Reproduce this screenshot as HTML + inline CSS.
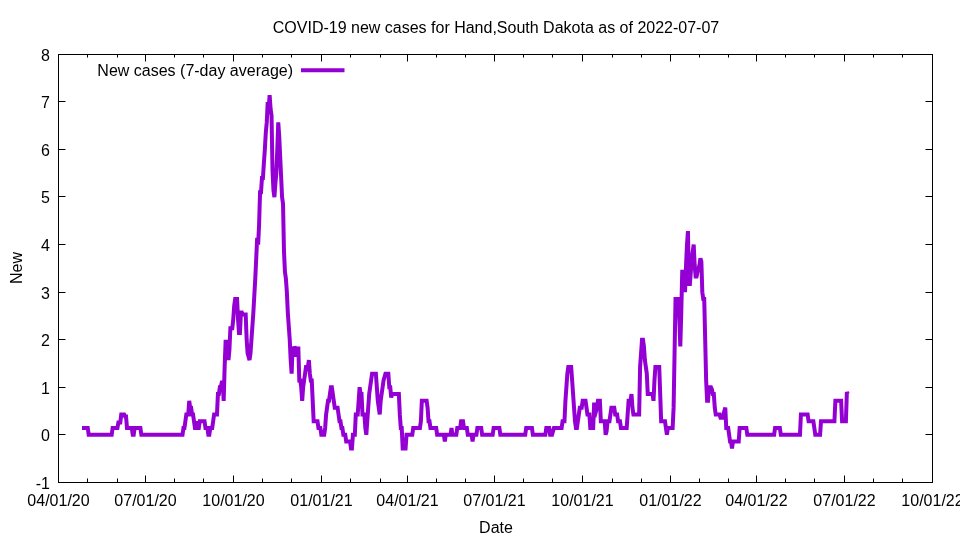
<!DOCTYPE html>
<html><head><meta charset="utf-8"><style>
html,body{margin:0;padding:0;background:#fff;width:960px;height:540px;overflow:hidden}
svg{display:block;will-change:transform}
text{font-family:"Liberation Sans",sans-serif;font-size:16px;fill:#000}
</style></head><body>
<svg width="960" height="540" viewBox="0 0 960 540">
<rect width="960" height="540" fill="#fff"/>
<path d="M145.5 482.5V475.5M145.5 54.5V61.5M233.5 482.5V475.5M233.5 54.5V61.5M321.5 482.5V475.5M321.5 54.5V61.5M407.5 482.5V475.5M407.5 54.5V61.5M494.5 482.5V475.5M494.5 54.5V61.5M582.5 482.5V475.5M582.5 54.5V61.5M670.5 482.5V475.5M670.5 54.5V61.5M756.5 482.5V475.5M756.5 54.5V61.5M844.5 482.5V475.5M844.5 54.5V61.5M87.5 482.5V478.5M87.5 54.5V57.5M117.5 482.5V478.5M117.5 54.5V57.5M174.5 482.5V478.5M174.5 54.5V57.5M203.5 482.5V478.5M203.5 54.5V57.5M262.5 482.5V478.5M262.5 54.5V57.5M291.5 482.5V478.5M291.5 54.5V57.5M350.5 482.5V478.5M350.5 54.5V57.5M380.5 482.5V478.5M380.5 54.5V57.5M436.5 482.5V478.5M436.5 54.5V57.5M465.5 482.5V478.5M465.5 54.5V57.5M523.5 482.5V478.5M523.5 54.5V57.5M552.5 482.5V478.5M552.5 54.5V57.5M612.5 482.5V478.5M612.5 54.5V57.5M641.5 482.5V478.5M641.5 54.5V57.5M699.5 482.5V478.5M699.5 54.5V57.5M728.5 482.5V478.5M728.5 54.5V57.5M785.5 482.5V478.5M785.5 54.5V57.5M814.5 482.5V478.5M814.5 54.5V57.5M873.5 482.5V478.5M873.5 54.5V57.5M902.5 482.5V478.5M902.5 54.5V57.5M58.5 101.5H65.5M932.5 101.5H925.5M58.5 149.5H65.5M932.5 149.5H925.5M58.5 196.5H65.5M932.5 196.5H925.5M58.5 244.5H65.5M932.5 244.5H925.5M58.5 292.5H65.5M932.5 292.5H925.5M58.5 339.5H65.5M932.5 339.5H925.5M58.5 387.5H65.5M932.5 387.5H925.5M58.5 434.5H65.5M932.5 434.5H925.5" stroke="#000" stroke-width="1" fill="none"/>
<rect x="58.5" y="54.5" width="874.0" height="428.0" stroke="#000" stroke-width="1" fill="none"/>
<text x="50" y="60.5" text-anchor="end">8</text><text x="50" y="107.5" text-anchor="end">7</text><text x="50" y="155.5" text-anchor="end">6</text><text x="50" y="202.5" text-anchor="end">5</text><text x="50" y="250.5" text-anchor="end">4</text><text x="50" y="298.5" text-anchor="end">3</text><text x="50" y="345.5" text-anchor="end">2</text><text x="50" y="393.5" text-anchor="end">1</text><text x="50" y="440.5" text-anchor="end">0</text><text x="50" y="488.5" text-anchor="end">-1</text><text x="58.5" y="506" text-anchor="middle">04/01/20</text><text x="145.5" y="506" text-anchor="middle">07/01/20</text><text x="233.5" y="506" text-anchor="middle">10/01/20</text><text x="321.5" y="506" text-anchor="middle">01/01/21</text><text x="407.5" y="506" text-anchor="middle">04/01/21</text><text x="494.5" y="506" text-anchor="middle">07/01/21</text><text x="582.5" y="506" text-anchor="middle">10/01/21</text><text x="670.5" y="506" text-anchor="middle">01/01/22</text><text x="756.5" y="506" text-anchor="middle">04/01/22</text><text x="844.5" y="506" text-anchor="middle">07/01/22</text><text x="932.5" y="506" text-anchor="middle">10/01/22</text>
<text x="496" y="33" text-anchor="middle">COVID-19 new cases for Hand,South Dakota as of 2022-07-07</text>
<text x="496" y="533" text-anchor="middle">Date</text>
<text transform="translate(22,268) rotate(-90)" text-anchor="middle">New</text>
<text x="293" y="76" text-anchor="end">New cases (7-day average)</text>
<path d="M301 70.25H344.5" stroke="#9400d3" stroke-width="4" fill="none"/>
<polyline points="82.00,428.01 82.96,428.01 83.91,428.01 84.87,428.01 85.83,428.01 86.79,428.01 87.74,428.01 88.70,434.80 89.66,434.80 90.62,434.80 91.57,434.80 92.53,434.80 93.49,434.80 94.44,434.80 95.40,434.80 96.36,434.80 97.32,434.80 98.27,434.80 99.23,434.80 100.19,434.80 101.15,434.80 102.10,434.80 103.06,434.80 104.02,434.80 104.97,434.80 105.93,434.80 106.89,434.80 107.85,434.80 108.80,434.80 109.76,434.80 110.72,434.80 111.68,434.80 112.63,428.01 113.59,428.01 114.55,428.01 115.50,428.01 116.46,428.01 117.42,428.01 118.38,422.58 119.33,422.58 120.29,422.58 121.25,414.43 122.21,414.43 123.16,414.43 124.12,414.43 125.08,416.46 126.04,416.46 126.99,428.01 127.95,428.01 128.91,428.01 129.86,428.01 130.82,428.01 131.78,428.01 132.74,434.80 133.69,434.80 134.65,428.01 135.61,428.01 136.57,428.01 137.52,428.01 138.48,428.01 139.44,428.01 140.39,428.01 141.35,434.80 142.31,434.80 143.27,434.80 144.22,434.80 145.18,434.80 146.14,434.80 147.10,434.80 148.05,434.80 149.01,434.80 149.97,434.80 150.92,434.80 151.88,434.80 152.84,434.80 153.80,434.80 154.75,434.80 155.71,434.80 156.67,434.80 157.63,434.80 158.58,434.80 159.54,434.80 160.50,434.80 161.45,434.80 162.41,434.80 163.37,434.80 164.33,434.80 165.28,434.80 166.24,434.80 167.20,434.80 168.16,434.80 169.11,434.80 170.07,434.80 171.03,434.80 171.98,434.80 172.94,434.80 173.90,434.80 174.86,434.80 175.81,434.80 176.77,434.80 177.73,434.80 178.69,434.80 179.64,434.80 180.60,434.80 181.56,434.80 182.51,434.80 183.47,428.01 184.43,428.01 185.39,421.22 186.34,414.43 187.30,414.43 188.26,414.43 189.22,400.84 190.17,407.63 191.13,407.63 192.09,414.43 193.04,414.43 194.00,421.22 194.96,428.01 195.92,428.01 196.87,421.22 197.83,428.01 198.79,428.01 199.75,421.22 200.70,421.22 201.66,421.22 202.62,421.22 203.58,421.22 204.53,421.22 205.49,428.01 206.45,428.01 207.40,428.01 208.36,434.80 209.32,434.80 210.28,428.01 211.23,428.01 212.19,428.01 213.15,421.22 214.11,414.43 215.06,414.43 216.02,414.43 216.98,414.43 217.93,394.05 218.89,394.05 219.85,387.26 220.81,387.26 221.76,382.51 222.72,382.51 223.68,400.84 224.64,366.89 225.59,341.76 226.55,341.76 227.51,341.76 228.46,360.09 229.42,349.91 230.38,328.17 231.34,328.17 232.29,328.17 233.25,319.35 234.21,305.76 235.17,298.97 236.12,298.97 237.08,298.97 238.04,319.35 238.99,332.93 239.95,332.93 240.91,312.55 241.87,312.55 242.82,314.59 243.78,314.59 244.74,314.59 245.70,314.59 246.65,339.72 247.61,353.30 248.57,356.70 249.52,360.09 250.48,353.30 251.44,339.72 252.40,326.14 253.35,312.55 254.31,295.58 255.27,278.60 256.23,258.22 257.18,237.85 258.14,244.64 259.10,224.27 260.05,192.35 261.01,192.35 261.97,178.08 262.93,178.08 263.88,163.14 264.84,149.56 265.80,132.58 266.76,122.39 267.71,102.02 268.67,108.81 269.63,95.23 270.58,108.81 271.54,115.60 272.50,169.93 273.46,190.31 274.41,197.10 275.37,183.52 276.33,173.33 277.29,149.56 278.24,122.39 279.20,135.98 280.16,156.35 281.12,176.73 282.07,197.10 283.03,203.89 283.99,251.43 284.94,271.81 285.90,278.60 286.86,292.18 287.82,312.55 288.77,326.14 289.73,339.72 290.69,360.09 291.65,373.68 292.60,346.51 293.56,356.70 294.52,346.51 295.47,348.55 296.43,356.70 297.39,348.55 298.35,348.55 299.30,380.47 300.26,380.47 301.22,387.26 302.18,400.84 303.13,387.26 304.09,380.47 305.05,373.68 306.00,366.89 306.96,366.89 307.92,366.89 308.88,360.09 309.83,373.68 310.79,380.47 311.75,380.47 312.71,400.84 313.66,421.22 314.62,421.22 315.58,421.22 316.53,421.22 317.49,421.22 318.45,428.01 319.41,428.01 320.36,428.01 321.32,434.80 322.28,434.80 323.24,434.80 324.19,434.80 325.15,428.01 326.11,414.43 327.06,407.63 328.02,400.84 328.98,400.84 329.94,394.05 330.89,387.26 331.85,387.26 332.81,394.05 333.77,400.84 334.72,407.63 335.68,407.63 336.64,407.63 337.59,407.63 338.55,414.43 339.51,421.22 340.47,421.22 341.42,428.01 342.38,428.01 343.34,434.80 344.30,434.80 345.25,434.80 346.21,441.59 347.17,441.59 348.12,441.59 349.08,441.59 350.04,441.59 351.00,448.38 351.95,448.38 352.91,434.80 353.87,434.80 354.83,434.80 355.78,414.43 356.74,414.43 357.70,414.43 358.65,400.84 359.61,387.26 360.57,394.05 361.53,394.05 362.48,414.43 363.44,414.43 364.40,414.43 365.36,428.01 366.31,434.80 367.27,421.22 368.23,407.63 369.19,394.05 370.14,387.26 371.10,380.47 372.06,373.68 373.01,373.68 373.97,373.68 374.93,373.68 375.89,373.68 376.84,387.26 377.80,400.84 378.76,407.63 379.72,414.43 380.67,400.84 381.63,394.05 382.59,387.26 383.54,380.47 384.50,377.07 385.46,373.68 386.42,373.68 387.37,373.68 388.33,373.68 389.29,387.26 390.25,387.26 391.20,397.45 392.16,394.05 393.12,394.05 394.07,394.05 395.03,394.05 395.99,394.05 396.95,394.05 397.90,394.05 398.86,394.05 399.82,414.43 400.78,428.01 401.73,428.01 402.69,448.38 403.65,448.38 404.60,448.38 405.56,448.38 406.52,434.80 407.48,434.80 408.43,434.80 409.39,434.80 410.35,434.80 411.31,434.80 412.26,434.80 413.22,428.01 414.18,428.01 415.13,428.01 416.09,428.01 417.05,428.01 418.01,428.01 418.96,428.01 419.92,428.01 420.88,421.22 421.84,400.84 422.79,400.84 423.75,400.84 424.71,400.84 425.66,400.84 426.62,400.84 427.58,407.63 428.54,421.22 429.49,421.22 430.45,428.01 431.41,428.01 432.37,428.01 433.32,428.01 434.28,428.01 435.24,428.01 436.19,428.01 437.15,434.80 438.11,434.80 439.07,434.80 440.02,434.80 440.98,434.80 441.94,434.80 442.90,434.80 443.85,434.80 444.81,441.59 445.77,434.80 446.73,434.80 447.68,434.80 448.64,434.80 449.60,434.80 450.55,434.80 451.51,428.01 452.47,434.80 453.43,434.80 454.38,434.80 455.34,434.80 456.30,434.80 457.26,428.01 458.21,428.01 459.17,428.01 460.13,428.01 461.08,421.22 462.04,421.22 463.00,421.22 463.96,428.01 464.91,428.01 465.87,428.01 466.83,428.01 467.79,434.80 468.74,434.80 469.70,434.80 470.66,434.80 471.61,434.80 472.57,441.59 473.53,434.80 474.49,434.80 475.44,434.80 476.40,434.80 477.36,428.01 478.32,428.01 479.27,428.01 480.23,428.01 481.19,428.01 482.14,434.80 483.10,434.80 484.06,434.80 485.02,434.80 485.97,434.80 486.93,434.80 487.89,434.80 488.85,434.80 489.80,434.80 490.76,434.80 491.72,434.80 492.67,434.80 493.63,428.01 494.59,428.01 495.55,428.01 496.50,428.01 497.46,428.01 498.42,428.01 499.38,428.01 500.33,434.80 501.29,434.80 502.25,434.80 503.20,434.80 504.16,434.80 505.12,434.80 506.08,434.80 507.03,434.80 507.99,434.80 508.95,434.80 509.91,434.80 510.86,434.80 511.82,434.80 512.78,434.80 513.73,434.80 514.69,434.80 515.65,434.80 516.61,434.80 517.56,434.80 518.52,434.80 519.48,434.80 520.44,434.80 521.39,434.80 522.35,434.80 523.31,434.80 524.27,434.80 525.22,434.80 526.18,428.01 527.14,428.01 528.09,428.01 529.05,428.01 530.01,428.01 530.97,428.01 531.92,428.01 532.88,434.80 533.84,434.80 534.80,434.80 535.75,434.80 536.71,434.80 537.67,434.80 538.62,434.80 539.58,434.80 540.54,434.80 541.50,434.80 542.45,434.80 543.41,434.80 544.37,434.80 545.33,434.80 546.28,428.01 547.24,428.01 548.20,428.01 549.15,428.01 550.11,434.80 551.07,434.80 552.03,434.80 552.98,431.40 553.94,428.01 554.90,428.01 555.86,428.01 556.81,428.01 557.77,428.01 558.73,428.01 559.68,428.01 560.64,428.01 561.60,428.01 562.56,421.22 563.51,421.22 564.47,421.22 565.43,400.84 566.39,387.26 567.34,373.68 568.30,366.89 569.26,366.89 570.21,366.89 571.17,366.89 572.13,380.47 573.09,394.05 574.04,407.63 575.00,421.22 575.96,428.01 576.92,428.01 577.87,421.22 578.83,414.43 579.79,407.63 580.74,407.63 581.70,407.63 582.66,400.84 583.62,400.84 584.57,400.84 585.53,400.84 586.49,407.63 587.45,414.43 588.40,414.43 589.36,414.43 590.32,428.01 591.27,428.01 592.23,428.01 593.19,428.01 594.15,402.54 595.10,407.63 596.06,411.03 597.02,407.63 597.98,400.84 598.93,400.84 599.89,400.84 600.85,421.22 601.81,421.22 602.76,421.22 603.72,421.22 604.68,421.22 605.63,434.80 606.59,431.40 607.55,421.22 608.51,421.22 609.46,421.22 610.42,414.43 611.38,407.63 612.34,407.63 613.29,407.63 614.25,407.63 615.21,414.43 616.16,414.43 617.12,414.43 618.08,421.22 619.04,421.22 619.99,421.22 620.95,428.01 621.91,428.01 622.87,428.01 623.82,428.01 624.78,428.01 625.74,428.01 626.69,428.01 627.65,414.43 628.61,400.84 629.57,400.84 630.52,400.84 631.48,394.05 632.44,407.63 633.40,414.43 634.35,414.43 635.31,414.43 636.27,414.43 637.22,414.43 638.18,414.43 639.14,414.43 640.10,366.89 641.05,353.30 642.01,339.72 642.97,339.72 643.93,346.51 644.88,360.09 645.84,366.89 646.80,373.68 647.75,394.05 648.71,394.05 649.67,394.05 650.63,394.05 651.58,394.05 652.54,394.05 653.50,400.84 654.46,380.47 655.41,366.89 656.37,366.89 657.33,366.89 658.28,366.89 659.24,366.89 660.20,394.05 661.16,421.22 662.11,421.22 663.07,421.22 664.03,421.22 664.99,421.22 665.94,428.01 666.90,434.80 667.86,428.01 668.81,428.01 669.77,428.01 670.73,428.01 671.69,428.01 672.64,428.01 673.60,407.63 674.56,353.30 675.52,298.97 676.47,298.97 677.43,298.97 678.39,298.97 679.35,319.35 680.30,346.51 681.26,312.55 682.22,271.81 683.17,271.81 684.13,290.14 685.09,290.14 686.05,265.01 687.00,244.64 687.96,231.06 688.92,284.03 689.88,284.03 690.83,271.81 691.79,258.22 692.75,251.43 693.70,244.64 694.66,265.01 695.62,276.56 696.58,276.56 697.53,271.81 698.49,268.41 699.45,265.01 700.41,258.22 701.36,261.62 702.32,292.18 703.28,298.97 704.23,298.97 705.19,339.72 706.15,380.47 707.11,400.84 708.06,400.84 709.02,387.26 709.98,387.26 710.94,387.26 711.89,389.30 712.85,394.05 713.81,394.05 714.76,407.63 715.72,414.43 716.68,414.43 717.64,414.43 718.59,414.43 719.55,414.43 720.51,417.82 721.47,417.82 722.42,417.82 723.38,414.43 724.34,411.03 725.29,407.63 726.25,428.01 727.21,428.01 728.17,428.01 729.12,434.80 730.08,441.59 731.04,441.59 732.00,448.38 732.95,441.59 733.91,441.59 734.87,441.59 735.82,441.59 736.78,441.59 737.74,441.59 738.70,441.59 739.65,428.01 740.61,428.01 741.57,428.01 742.53,428.01 743.48,428.01 744.44,428.01 745.40,428.01 746.35,428.01 747.31,434.80 748.27,434.80 749.23,434.80 750.18,434.80 751.14,434.80 752.10,434.80 753.06,434.80 754.01,434.80 754.97,434.80 755.93,434.80 756.88,434.80 757.84,434.80 758.80,434.80 759.76,434.80 760.71,434.80 761.67,434.80 762.63,434.80 763.59,434.80 764.54,434.80 765.50,434.80 766.46,434.80 767.42,434.80 768.37,434.80 769.33,434.80 770.29,434.80 771.24,434.80 772.20,434.80 773.16,434.80 774.12,434.80 775.07,428.01 776.03,428.01 776.99,428.01 777.95,428.01 778.90,428.01 779.86,428.01 780.82,434.80 781.77,434.80 782.73,434.80 783.69,434.80 784.65,434.80 785.60,434.80 786.56,434.80 787.52,434.80 788.48,434.80 789.43,434.80 790.39,434.80 791.35,434.80 792.30,434.80 793.26,434.80 794.22,434.80 795.18,434.80 796.13,434.80 797.09,434.80 798.05,434.80 799.01,434.80 799.96,434.80 800.92,414.43 801.88,414.43 802.83,414.43 803.79,414.43 804.75,414.43 805.71,414.43 806.66,414.43 807.62,414.43 808.58,421.22 809.54,421.22 810.49,421.22 811.45,421.22 812.41,421.22 813.36,421.22 814.32,428.01 815.28,434.80 816.24,434.80 817.19,434.80 818.15,434.80 819.11,434.80 820.07,434.80 821.02,421.22 821.98,421.22 822.94,421.22 823.89,421.22 824.85,421.22 825.81,421.22 826.77,421.22 827.72,421.22 828.68,421.22 829.64,421.22 830.60,421.22 831.55,421.22 832.51,421.22 833.47,421.22 834.42,421.22 835.38,400.84 836.34,400.84 837.30,400.84 838.25,400.84 839.21,400.84 840.17,400.84 841.13,400.84 842.08,421.22 843.04,421.22 844.00,421.22 844.96,421.22 845.91,421.22 846.87,392.01 847.83,394.05" stroke="#9400d3" stroke-width="4" fill="none" stroke-linejoin="miter" stroke-miterlimit="3.8"/>
</svg>
</body></html>
